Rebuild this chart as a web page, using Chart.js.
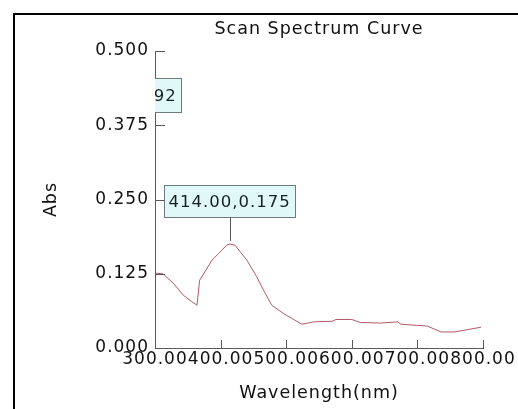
<!DOCTYPE html>
<html><head><meta charset="utf-8">
<script src="https://cdn.jsdelivr.net/npm/chart.js@4/dist/chart.umd.min.js"></script>
<style>html,body{margin:0;padding:0;background:#fff;overflow:hidden}#wrap{width:518px;height:409px;position:relative}canvas{display:block}</style>
</head><body><div id="wrap"><canvas id="c" width="518" height="409"></canvas></div>
<script>
const wavelengths = [300, 312, 328, 343, 356, 364, 368, 376, 387, 397, 409, 414, 422, 440, 455, 468, 478, 496, 513, 524, 542, 570, 576, 600, 613, 644, 670, 675, 700, 715, 736, 756, 777, 797];
const absorbance  = [0.126, 0.125, 0.109, 0.089, 0.078, 0.072, 0.114, 0.128, 0.148, 0.159, 0.173, 0.175, 0.173, 0.148, 0.120, 0.092, 0.072, 0.058, 0.047, 0.040, 0.044, 0.045, 0.048, 0.048, 0.043, 0.042, 0.044, 0.040, 0.038, 0.037, 0.027, 0.027, 0.031, 0.035];
const xTickValues = [300, 400, 500, 600, 700, 800];
const yTickValues = [0, 0.125, 0.25, 0.375, 0.5];
const peakWavelengths = [240, 414];
const peakAbs = [0.392, 0.175];
const peakLabels = ['240.00,0.392', '414.00,0.175'];

const FONT = 'DejaVu Sans';
const TXT = '#111111';
const AXIS = '#5a5a5a';
const SPACING = '1px';

const spacingPlugin = {
  id: 'spacing',
  beforeLayout(chart) { chart.ctx.letterSpacing = SPACING; },
  beforeDraw(chart) {
    const ctx = chart.ctx;
    ctx.letterSpacing = SPACING;
    ctx.save();
    ctx.fillStyle = '#ffffff';
    ctx.fillRect(0, 0, chart.width, chart.height);
    ctx.restore();
  }
};

const tickMarkPlugin = {
  id: 'tickMarks',
  afterDraw(chart) {
    const ctx = chart.ctx, xs = chart.scales.x, ys = chart.scales.y;
    ctx.save();
    ctx.strokeStyle = AXIS;
    ctx.lineWidth = 1;
    ctx.beginPath();
    xs.ticks.forEach(t => {
      if (t.value === xs.min) return;
      const px = Math.round(xs.getPixelForValue(t.value)) + 0.5;
      ctx.moveTo(px, ys.bottom);
      ctx.lineTo(px, ys.bottom - 8);
    });
    ys.ticks.forEach(t => {
      if (t.value === ys.min) return;
      const py = Math.round(ys.getPixelForValue(t.value)) + 0.5;
      ctx.moveTo(xs.left, py);
      ctx.lineTo(xs.left + 10, py);
    });
    ctx.stroke();
    ctx.restore();
  }
};

const annotationPlugin = {
  id: 'peakLabels',
  afterDatasetsDraw(chart, args, opts) {
    const ctx = chart.ctx, xs = chart.scales.x, ys = chart.scales.y, area = chart.chartArea;
    ctx.save();
    ctx.beginPath();
    ctx.rect(area.left, area.top - 40, area.right - area.left + 40, area.bottom - area.top + 40);
    ctx.clip();
    ctx.letterSpacing = SPACING;
    ctx.font = '16.5px "' + FONT + '"';
    peakWavelengths.forEach((w, i) => {
      const px = xs.getPixelForValue(w);
      const py = ys.getPixelForValue(peakAbs[i]);
      const lift = opts.lift[i];
      const tw = ctx.measureText(peakLabels[i]).width;
      const bw = Math.round(tw + 9), bh = opts.boxHeight[i];
      const bx = Math.round(px - bw / 2) + 0.5;
      const by = Math.round(py - lift - bh) + 0.5;
      ctx.fillStyle = '#e0f8f8';
      ctx.fillRect(bx, by, bw, bh);
      ctx.strokeStyle = '#6c7c7c';
      ctx.lineWidth = 1;
      ctx.strokeRect(bx, by, bw, bh);
      ctx.fillStyle = '#162222';
      ctx.textAlign = 'left';
      ctx.textBaseline = 'middle';
      ctx.fillText(peakLabels[i], bx + 4, by + bh / 2 + 1);
      if (lift > 6) {
        const lx = Math.round(px) + 0.5;
        ctx.strokeStyle = '#555';
        ctx.beginPath();
        ctx.moveTo(lx, by + bh);
        ctx.lineTo(lx, py - 3);
        ctx.stroke();
      }
    });
    ctx.restore();
  }
};

const framePlugin = {
  id: 'frame',
  afterDraw(chart) {
    const ctx = chart.ctx;
    ctx.save();
    ctx.fillStyle = '#000';
    ctx.fillRect(13, 13, 2, chart.height - 13);
    ctx.fillRect(13, 13, chart.width - 13, 2);
    ctx.restore();
  }
};

const points = wavelengths.map((w, i) => ({ x: w, y: absorbance[i] }));

new Chart(document.getElementById('c'), {
  type: 'line',
  data: { datasets: [{ data: points, borderColor: '#b35a66', borderWidth: 1, pointRadius: 0, tension: 0, fill: false }] },
  options: {
    responsive: false, animation: false, devicePixelRatio: 1,
    layout: { padding: 0 },
    plugins: {
      legend: { display: false },
      tooltip: { enabled: false },
      title: { display: true, text: 'Scan Spectrum Curve', fullSize: false, color: TXT,
        font: { family: FONT, size: 17.5, weight: 'normal' }, padding: { top: 18.5, bottom: 11.5 } },
      peakLabels: { lift: [3, 27], boxHeight: [34, 32] }
    },
    scales: {
      x: {
        type: 'linear', min: 300, max: 800,
        afterBuildTicks: s => { s.ticks = xTickValues.map(v => ({ value: v })); },
        ticks: { autoSkip: false, maxRotation: 0, minRotation: 0, padding: 1, color: TXT,
          font: { family: FONT, size: 17 }, callback: v => Number(v).toFixed(2) },
        grid: { display: false, drawTicks: false },
        border: { display: true, color: AXIS, width: 1 },
        title: { display: true, text: 'Wavelength(nm)', color: TXT, font: { family: FONT, size: 17.5 }, padding: { top: 0, bottom: 5.5 } },
        afterFit: s => { s.height = 61; s.paddingLeft = 0; s.paddingRight = 35; }
      },
      y: {
        type: 'linear', min: 0, max: 0.5,
        afterBuildTicks: s => { s.ticks = yTickValues.map(v => ({ value: v })); },
        ticks: { padding: 6, color: TXT, font: { family: FONT, size: 17 }, callback: v => Number(v).toFixed(3) },
        grid: { display: false, drawTicks: false },
        border: { display: true, color: AXIS, width: 1 },
        title: { display: true, text: 'Abs', color: TXT, font: { family: FONT, size: 17.5 }, padding: { top: 41, bottom: 0 } },
        afterFit: s => { s.width = 155; s.paddingTop = 0; s.paddingBottom = 0; }
      }
    }
  },
  plugins: [spacingPlugin, tickMarkPlugin, annotationPlugin, framePlugin]
});
</script>
</body></html>
